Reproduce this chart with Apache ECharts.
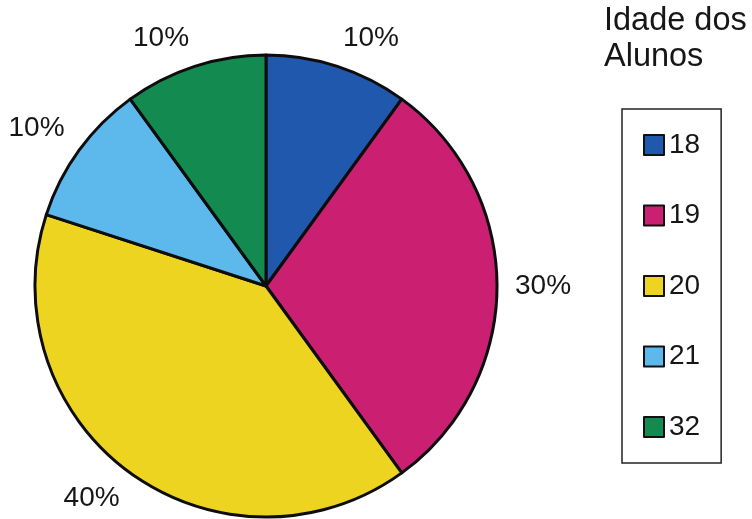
<!DOCTYPE html>
<html>
<head>
<meta charset="utf-8">
<style>
  html, body { margin: 0; padding: 0; background: #ffffff; }
  #chart { width: 752px; height: 519px; }
</style>
<script src="https://cdn.jsdelivr.net/npm/echarts@6/dist/echarts.min.js"></script>
</head>
<body>
<div id="chart"></div>
<script>
// Age groups of the students and their share (%)
const ages = ['18', '19', '20', '21', '32'];
const shares = [10, 30, 40, 10, 10];
const sliceColors = ['#1f58ad', '#cb1f72', '#ecd420', '#5db8ec', '#138a50'];
const legendTitle = 'Idade dos\nAlunos';

const FONT = '"Liberation Sans", Arial, Helvetica, sans-serif';
const CENTER = [266, 286];
const RADIUS = 231;

const total = shares.reduce((a, b) => a + b, 0);
// Mid angle of each slice, measured clockwise from 12 o'clock
const midAngles = [];
let acc = 0;
shares.forEach(v => {
  midAngles.push((acc + v / 2) / total * 2 * Math.PI);
  acc += v;
});

const chart = echarts.init(document.getElementById('chart'), null, { renderer: 'canvas' });

chart.setOption({
  backgroundColor: '#ffffff',
  animation: false,
  title: {
    text: legendTitle,
    left: 604,
    top: 3,
    padding: 0,
    textStyle: {
      fontFamily: FONT,
      fontSize: 32.5,
      lineHeight: 36,
      fontWeight: 'normal',
      color: '#161616'
    }
  },
  legend: {
    orient: 'vertical',
    left: 622,
    top: 109,
    padding: [22, 21, 22, 21],
    itemWidth: 20,
    itemHeight: 20,
    itemGap: 42.5,
    icon: 'rect',
    borderColor: '#222',
    borderWidth: 1.5,
    data: ages,
    itemStyle: { borderColor: '#111', borderWidth: 2 },
    textStyle: {
      fontFamily: FONT,
      fontSize: 28,
      color: '#161616'
    }
  },
  series: [{
    type: 'pie',
    center: CENTER,
    radius: RADIUS,
    startAngle: 90,
    clockwise: true,
    avoidLabelOverlap: false,
    data: ages.map((a, i) => ({
      name: a,
      value: shares[i],
      itemStyle: { color: sliceColors[i] }
    })),
    itemStyle: { borderColor: '#0d0d0d', borderWidth: 3 },
    emphasis: { disabled: true },
    label: {
      show: true,
      position: 'outside',
      formatter: '{c}%',
      fontFamily: FONT,
      fontSize: 28,
      color: '#161616'
    },
    labelLine: { show: false, length: 10, length2: 0 },
    // Place each label just outside the rim, with its nearest corner on the slice's mid ray
    labelLayout: function (params) {
      const th = midAngles[params.dataIndex];
      const ux = Math.sin(th), uy = -Math.cos(th);
      const D = RADIUS + 18;
      const px = CENTER[0] + ux * D;
      const py = CENTER[1] + uy * D;
      const w = params.labelRect.width;
      const clamp = v => Math.max(-1, Math.min(1, v));
      const x = px + (w / 2) * clamp(ux * 3.5);
      const y = py + 11 * clamp(uy * 3.5);
      return { x: x, y: y, align: 'center', verticalAlign: 'middle' };
    }
  }]
});
</script>
</body>
</html>
